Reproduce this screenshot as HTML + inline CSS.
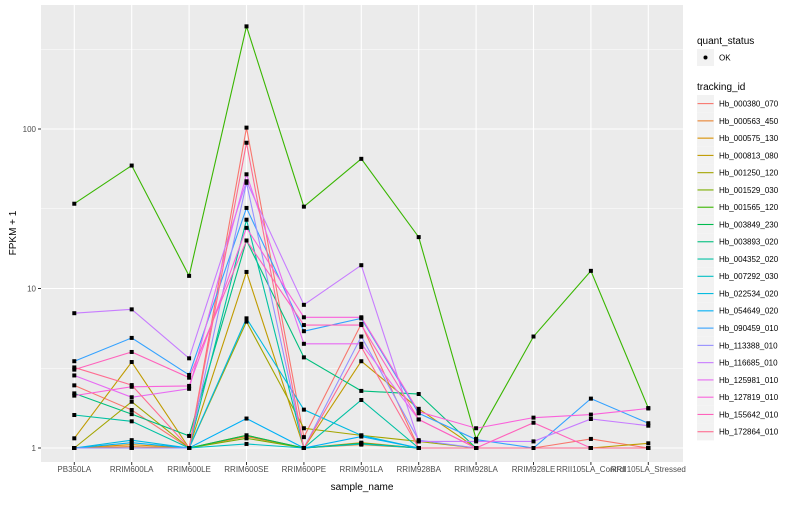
<!DOCTYPE html>
<html><head><meta charset="utf-8"><style>
body{margin:0;background:#fff;font-family:"Liberation Sans",sans-serif}
svg text{font-family:"Liberation Sans",sans-serif}
</style></head><body>
<svg id="c" width="800" height="500" xmlns="http://www.w3.org/2000/svg"></svg>
<script>
const categories=["PB350LA","RRIM600LA","RRIM600LE","RRIM600SE","RRIM600PE","RRIM901LA","RRIM928BA","RRIM928LA","RRIM928LE","RRII105LA_Control","RRII105LA_Stressed"];
const seriesNames=["Hb_000380_070","Hb_000563_450","Hb_000575_130","Hb_000813_080","Hb_001250_120","Hb_001529_030","Hb_001565_120","Hb_003849_230","Hb_003893_020","Hb_004352_020","Hb_007292_030","Hb_022534_020","Hb_054649_020","Hb_090459_010","Hb_113388_010","Hb_116685_010","Hb_125981_010","Hb_127819_010","Hb_155642_010","Hb_172864_010"];
const colors=["#F8766D","#EA8331","#D89000","#C09B00","#A3A500","#7CAE00","#39B600","#00BB4E","#00BF7D","#00C1A3","#00BFC4","#00BAE0","#00B0F6","#35A2FF","#9590FF","#C77CFF","#E76BF3","#FA62DB","#FF62BC","#FF6C91"];
const s0=[2.47,1.73,1,102,1.17,6.0,1,1,1,1.14,1];
const s1=[1,1.02,1,1.18,1,1.05,1,1,1,1,1];
const s2=[1,1.05,1,1.2,1,1.08,1,1,1,1,1];
const s3=[1.15,3.46,1,12.7,1,3.5,1.76,1,1,1,1.07];
const s4=[1,1.95,1,6.2,1.33,1.2,1.1,1,1,1,1];
const s5=[1,1.0,1,1.15,1,1.06,1,1,1,1,1];
const s6=[34,59,12,440,32.6,65,21,1.14,5.0,12.9,1.78];
const s7=[1,1,1,1.2,1,1.07,1,1,1,1,1];
const s8=[2.2,1.63,1.19,20,3.7,2.28,2.18,1,1,1,1];
const s9=[1.61,1.47,1,27,1,2.0,1,1,1,1,1];
const s10=[1,1,1,1.06,1,1.06,1,1,1,1,1];
const s11=[1,1.12,1,6.5,1.74,1.2,1,1,1,1,1];
const s12=[1,1.08,1,1.53,1,1.18,1,1,1,1,1];
const s13=[3.5,4.9,2.87,32,5.4,6.5,1.65,1.13,1,2.04,1.43];
const s14=[1,1,1,46,1,5.0,1.12,1,1,1,1];
const s15=[7.0,7.4,3.65,47,7.9,14,1.1,1.1,1.1,1.52,1.38];
const s16=[2.85,2.08,2.35,52,4.5,4.5,1.51,1,1,1,1];
const s17=[2.13,2.42,2.45,24,6.6,6.6,1.69,1.33,1.55,1.62,1.77];
const s18=[3.1,4.0,2.76,20,5.9,5.9,1.51,1,1.44,1,1];
const s19=[3.2,2.48,1,82,1,4.3,1,1,1,1,1];
const seriesValues=[s0,s1,s2,s3,s4,s5,s6,s7,s8,s9,s10,s11,s12,s13,s14,s15,s16,s17,s18,s19];
const yTicks=[1,10,100];
const yTickLabels=["1","10","100"];

const svg=document.getElementById('c');const NS="http://www.w3.org/2000/svg";
function mk(t,a,p){const e=document.createElementNS(NS,t);for(const k in a)e.setAttribute(k,a[k]);(p||svg).appendChild(e);return e;}
const L=41,R=683,T=5,B=462;
const xs=i=>74.3+57.4*i;
const ys=v=>448-159.5*Math.log10(v);
const bg=mk('rect',{x:L,y:T,width:R-L,height:B-T,fill:'#EBEBEB'});


[0.5,1.5,2.5].forEach(l=>{const y=448-159.5*l;const g=mk('line',{x1:L,x2:R,y1:y,y2:y,stroke:'#fff','stroke-width':0.5});

});
yTicks.forEach((v,i)=>{const y=ys(v);const g=mk('line',{x1:L,x2:R,y1:y,y2:y,stroke:'#fff','stroke-width':1.1});


mk('line',{x1:L-3,x2:L,y1:y,y2:y,stroke:'#333'});
const t=mk('text',{x:L-5,y:y+3,'font-size':8,fill:'#4D4D4D','text-anchor':'end'});t.textContent=yTickLabels[i];

});
categories.forEach((c,i)=>{const x=xs(i);const g=mk('line',{x1:x,x2:x,y1:T,y2:B,stroke:'#fff','stroke-width':1.1});


mk('line',{x1:x,x2:x,y1:B,y2:B+3,stroke:'#333'});
const t=mk('text',{x:x,y:B+10,'font-size':8,fill:'#4D4D4D','text-anchor':'middle'});t.textContent=c;

});
seriesValues.forEach((vals,si)=>{const p=mk('polyline',{points:vals.map((v,i)=>xs(i)+','+ys(v)).join(' '),fill:'none',stroke:colors[si],'stroke-width':1.1});

});
seriesValues.forEach((vals,si)=>{vals.forEach((v,i)=>{const d=mk('rect',{x:xs(i)-2,y:ys(v)-2,width:4,height:4,fill:'#000'});

});});
let t=mk('text',{x:362,y:490,'font-size':10,fill:'#000','text-anchor':'middle'});t.textContent='sample_name';


t=mk('text',{x:0,y:0,'font-size':10,fill:'#000','text-anchor':'middle',transform:'translate(16,233) rotate(-90)'});t.textContent='FPKM + 1';


t=mk('text',{x:697,y:44,'font-size':10,fill:'#000'});t.textContent='quant_status';


mk('rect',{x:697,y:49,width:17,height:17,fill:'#F2F2F2'});
mk('circle',{cx:705.5,cy:57.5,r:2,fill:'#000'});
t=mk('text',{x:719,y:60.5,'font-size':8,fill:'#000'});t.textContent='OK';


t=mk('text',{x:697,y:90,'font-size':10,fill:'#000'});t.textContent='tracking_id';


seriesNames.forEach((n,i)=>{const y=95+17.27*i;
mk('rect',{x:697,y:y,width:17,height:17.27,fill:'#F2F2F2'});
mk('line',{x1:697.5,x2:713.5,y1:y+8.6,y2:y+8.6,stroke:colors[i],'stroke-width':1.1});
const tt=mk('text',{x:719,y:y+11.5,'font-size':8,fill:'#000'});tt.textContent=n;

});
</script>
</body></html>
